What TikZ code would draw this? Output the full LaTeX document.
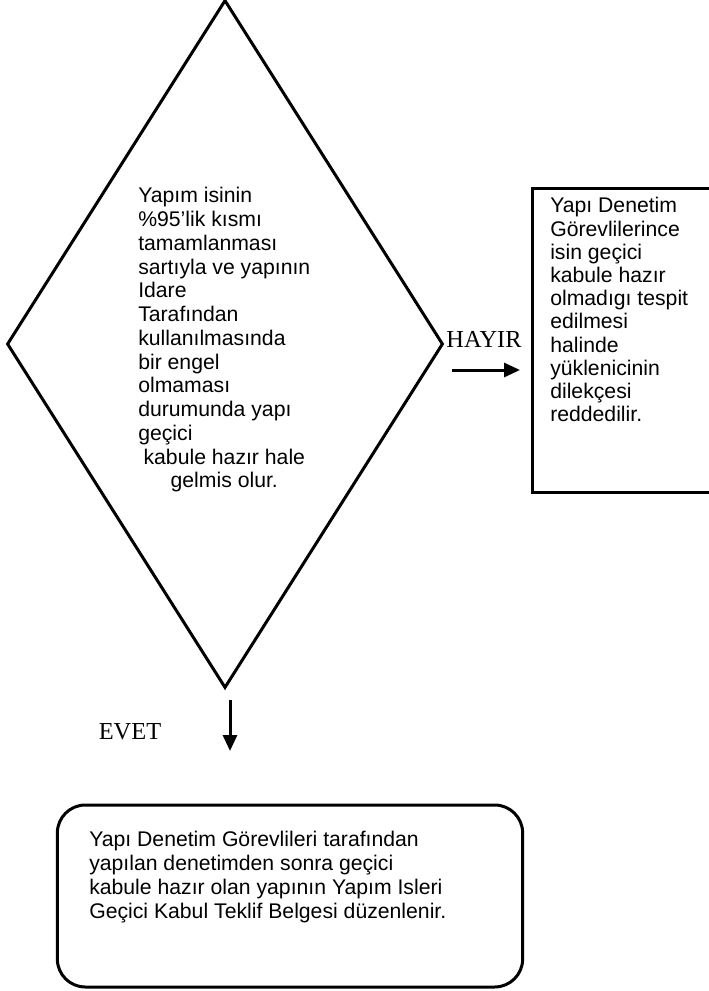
\documentclass[tikz,border=0pt]{standalone}
\usepackage{fontspec}
\setmainfont{Liberation Sans}
\newfontfamily\seriffont{Liberation Serif}
\usetikzlibrary{shapes.geometric,arrows.meta}
\begin{document}
\begin{tikzpicture}[x=0.75pt,y=-0.75pt,
  outline/.style={draw=black,line width=2.25pt},
  body/.style={inner sep=0pt,anchor=base west},
  lab/.style={inner sep=0pt,font=\seriffont\fontsize{18.3}{20}\selectfont},
  conn/.style={line width=2.25pt,-{Triangle[length=12pt,width=10.5pt]}}]
\useasboundingbox (0,0) rectangle (708,991);
% decision diamond
\node[outline,diamond,minimum width=327pt,minimum height=516pt,inner sep=0pt] (dia) at (225,344) {};
\node[body,font=\fontsize{15.9}{17.8}\selectfont] (dtext) at (138,203) {\parbox[t]{129pt}{\raggedright
Yapım isinin\\
\%95’lik kısmı\\
tamamlanması\\
sartıyla ve yapının\\
Idare\\
Tarafından\\
kullanılmasında\\
bir engel\\
olmaması\\
durumunda yapı\\
geçici\\
\hspace*{4pt}kabule hazır hale\\
\makebox[\linewidth]{gelmis olur.}}};
% reject box
\node[outline,rectangle,minimum width=150pt,minimum height=227.25pt,inner sep=0pt] (rej) at (632,340.5) {};
\node[body,font=\fontsize{15.9}{17.4}\selectfont] (rtext) at (550,213) {\parbox[t]{150pt}{\raggedright
Yapı Denetim\\
Görevlilerince\\
isin geçici\\
kabule hazır\\
olmadıgı tespit\\
edilmesi\\
halinde\\
yüklenicinin\\
dilekçesi\\
reddedilir.}};
% accept box
\node[outline,rectangle,rounded corners=21pt,minimum width=349pt,minimum height=136.5pt,inner sep=0pt] (acc) at (290,896) {};
\node[body,font=\fontsize{15.9}{18.2}\selectfont] (atext) at (89,846) {\parbox[t]{320pt}{\raggedright
Yapı Denetim Görevlileri tarafından\\
yapılan denetimden sonra geçici\\
kabule hazır olan yapının Yapım Isleri\\
Geçici Kabul Teklif Belgesi düzenlenir.}};
% connectors
\coordinate (h1) at (452,370);
\coordinate (h2) at (520,370);
\coordinate (v1) at (230,700);
\coordinate (v2) at (230,751);
\draw[conn] (h1) -- (h2);
\draw[conn] (v1) -- (v2);
\node[lab] (hayir) at (484,339.5) {HAYIR};
\node[lab] (evet) at (130,731.5) {EVET};
\end{tikzpicture}
\end{document}
